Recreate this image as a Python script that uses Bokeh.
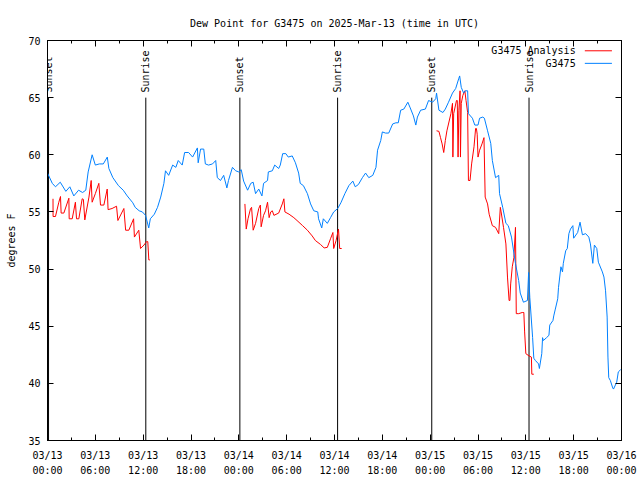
import math
from bokeh.plotting import figure
from bokeh.models import (Range1d, FixedTicker, LinearAxis, Label, Arrow,
                          CustomJSTickFormatter)
from bokeh.core.properties import value
from bokeh.embed import file_html
from bokeh.resources import INLINE

# ---------------- data (hours since 2025-03-13 00:00 UTC) ----------------
x_tick_hours = [0, 6, 12, 18, 24, 30, 36, 42, 48, 54, 60, 66, 72]
x_tick_labels = ["03/13\n00:00", "03/13\n06:00", "03/13\n12:00", "03/13\n18:00",
                 "03/14\n00:00", "03/14\n06:00", "03/14\n12:00", "03/14\n18:00",
                 "03/15\n00:00", "03/15\n06:00", "03/15\n12:00", "03/15\n18:00",
                 "03/16\n00:00"]
y_ticks = [35, 40, 45, 50, 55, 60, 65, 70]

event_hours = [0.13, 12.33, 24.13, 36.39, 48.2, 60.4]
event_names = ["Sunset", "Sunrise", "Sunset", "Sunrise", "Sunset", "Sunrise"]
event_top = 65

station_hours = [
    0.0, 0.6, 1.0, 1.6, 2.3, 2.8, 3.3, 3.9, 4.4, 4.8, 5.1, 5.6, 6.0, 6.5, 7.0,
    7.5, 7.7, 8.2, 8.9, 9.5, 10.0, 10.7, 11.0, 11.5, 11.9, 12.3, 12.7, 12.9,
    13.4, 13.8, 14.2, 14.6, 14.8, 15.2, 15.7, 16.1, 16.4, 16.9, 17.2, 17.7,
    18.2, 18.8, 18.9, 19.2, 19.6, 19.8, 20.2, 20.7, 21.1, 21.3, 21.7, 22.1,
    22.5, 22.7, 23.2, 23.6, 24.0, 24.3, 24.6, 25.1, 25.5, 25.8, 26.1, 26.5,
    26.9, 27.1, 27.6, 27.7, 28.2, 28.5, 29.0, 29.2, 29.5, 29.9, 30.2, 30.7,
    31.1, 31.5, 31.7, 32.1, 32.6, 33.0, 33.4, 33.9, 34.0, 34.4, 34.6, 35.1,
    35.5, 35.9, 36.4, 36.8, 37.3, 37.8, 38.3, 38.6, 39.0, 39.5, 39.9, 40.3,
    40.8, 41.2, 41.4, 41.8, 42.0, 42.4, 42.8, 43.3, 43.7, 44.0, 44.3, 44.7,
    45.2, 45.5, 45.9, 46.2, 46.4, 46.8, 47.4, 47.8, 48.3, 48.7, 48.8, 49.1,
    49.6, 49.9, 50.3, 50.8, 51.2, 51.6, 51.7, 51.9, 52.2, 52.4, 52.7, 52.8,
    53.3, 53.6, 54.0, 54.2, 54.6, 54.8, 55.2, 55.6, 55.8, 56.2, 56.6, 56.7,
    57.1, 57.5, 57.8, 58.2, 58.5, 58.7, 59.1, 59.3, 59.7, 60.2, 60.35, 60.5,
    60.85, 61.0, 61.2, 61.6, 61.7, 62.0, 62.1, 62.2, 62.6, 62.9, 63.0, 63.4,
    63.5, 63.7, 64.0, 64.1, 64.4, 64.6, 64.7, 65.0, 65.2, 65.4, 65.6, 65.9,
    66.0, 66.5, 66.8, 67.1, 67.5, 67.9, 68.1, 68.4, 68.6, 68.9, 69.1, 69.6,
    69.8, 70.0, 70.2, 70.3, 70.4, 70.6, 70.9, 71.0, 71.4, 71.6, 71.9]
station_dewpoint = [
    58.4, 57.5, 57.2, 57.6, 56.8, 57.2, 56.4, 56.9, 56.7, 56.9, 58.5, 60.0, 59.1, 59.2, 59.2,
    59.8, 58.8, 58.0, 57.3, 56.9, 56.4, 55.8, 55.4, 55.1, 55.0, 54.7, 53.6, 54.4,
    54.8, 55.4, 56.3, 57.5, 58.6, 58.2, 59.1, 58.9, 59.5, 59.1, 60.2, 60.2,
    59.8, 60.6, 59.3, 60.5, 60.5, 59.2, 59.1, 59.2, 59.5, 58.0, 57.75, 58.2,
    57.1, 57.75, 58.9, 58.6, 58.5, 58.7, 57.7, 56.9, 57.5, 57.6, 56.6, 57.0,
    56.4, 57.5, 57.75, 58.5, 58.6, 59.1, 58.8, 59.1, 60.1, 60.1, 59.8, 59.9,
    59.3, 58.4, 57.5, 57.3, 56.6, 55.7, 55.1, 55.0, 54.4, 53.6, 54.4, 54.0,
    54.5, 55.0, 55.3, 55.8, 56.6, 57.3, 57.7, 57.2, 57.4, 58.0, 58.4, 58.0,
    58.2, 58.9, 60.4, 61.25, 62.0, 61.9, 61.9, 62.7, 62.8, 62.8, 63.9, 64.0,
    64.6, 64.1, 63.4, 62.6, 63.3, 63.9, 64.0, 64.75, 64.6, 64.9, 65.4, 63.9,
    63.7, 64.0, 64.6, 65.4, 65.8, 66.7, 66.9, 65.9, 65.4, 65.6, 65.6, 63.6,
    63.2, 62.6, 62.6, 63.2, 63.3, 63.2, 62.1, 61.0, 59.5, 58.0, 58.2, 56.6,
    55.4, 54.0, 53.8, 52.8, 51.4, 50.5, 49.0, 47.9, 47.1, 47.25, 49.7, 47.5,
    44.0, 42.2, 42.0, 41.7, 41.3, 42.6, 44.0, 43.75, 44.0, 44.2, 45.1, 45.5,
    45.9, 46.5, 47.4, 48.4, 50.2, 49.75, 50.5, 51.6, 51.8, 53.1, 53.5, 53.8,
    52.7, 53.2, 54.1, 53.0, 53.1, 52.8, 52.2, 50.5, 52.1, 51.8, 50.6, 49.75,
    49.3, 48.1, 45.8, 42.3, 40.5, 40.25, 39.6, 39.5, 40.1, 41.0, 41.2]

nan = float("nan")
analysis_hours = [
    0.69, 0.70, 1.0, 1.42, 1.63, 1.71, 2.05, 2.68, 2.72, 3.1, 3.5, 3.64, 3.93,
    4.35, 4.5, 4.68, 5.2, 5.48, 5.6, 6.0, 6.44, 6.65, 7.07, 7.49, 7.6, 8.1,
    8.66, 8.83, 9.58, 9.8, 10.2, 10.8, 10.9, 11.45, 11.67, 12.1, 12.42, 12.58,
    12.71, 12.84, 13.0,
    24.76, 24.93, 25.15, 25.47, 25.6, 25.8, 26.1, 26.5, 26.7, 26.8, 27.1,
    27.35, 27.6, 27.8, 28.0, 28.2, 28.4, 29.0, 29.45, 29.65, 29.78, 30.3,
    30.9, 31.3, 32.0, 32.6, 33.2, 33.6, 34.25, 34.7, 35.1, 35.5, 35.8, 35.9,
    36.2, 36.5, 36.65, 36.9, 37.0,
    48.8, 49.1, 49.3, 49.5, 49.7, 49.9, 50.1, 50.6, 50.8, 50.85, 50.95, 51.3,
    51.4, 51.5, 51.6, 51.75, 51.8, 51.9, 52.1, 52.35, 52.5, 52.7, 52.8, 53.0,
    53.2, 53.5, 53.7, 53.8, 53.9, 54.0, 54.2, 54.5, 54.75, 54.9, 55.2, 55.4,
    55.8, 56.2, 56.6, 56.8, 56.9, 57.2, 57.5, 57.7, 57.9, 58.0, 58.1, 58.3,
    58.5, 58.7, 58.8, 59.1, 59.55, 59.75, 59.85, 60.0, 60.4, 60.7, 60.75, 61.0]
analysis_dewpoint = [
    56.15, 54.6, 54.6, 55.85, 56.35, 54.9, 54.9, 56.2, 54.4, 54.4, 55.85, 54.4, 54.4,
    56.15, 56.1, 54.3, 56.3, 57.75, 55.85, 56.6, 57.5, 55.6, 55.6, 57.0, 55.2, 55.3,
    55.5, 54.25, 55.3, 53.4, 53.4, 54.4, 52.8, 53.4, 51.8, 52.1, 52.4, 52.4,
    50.8, 50.8, nan,
    55.7, 53.5, 54.4, 55.3, 55.4, 53.4, 54.0, 55.3, 55.6, 53.7, 54.7,
    55.1, 55.85, 54.5, 55.0, 55.1, 54.7, 54.9, 55.7, 56.15, 55.0, 54.8,
    54.5, 54.25, 53.8, 53.4, 52.9, 52.5, 52.15, 51.85, 51.9, 52.65, 53.2, 51.8,
    52.5, 53.5, 51.8, 51.8, nan,
    62.1, 62.05, 61.5, 60.95, 60.2, 61.25, 62.1, 63.6, 64.5, 59.8, 63.6, 64.75,
    64.75, 59.8, 63.9, 65.6, 59.8, 64.5, 65.2, 65.6, 64.75, 63.7, 57.75, 57.75,
    59.2, 60.7, 62.3, 62.3, 61.8, 59.8, 60.4, 60.95, 61.5, 56.3, 55.7, 54.8,
    53.8, 53.65, 53.1, 55.4, 55.0, 53.65, 52.2, 49.3, 47.25, 47.25, 48.7, 50.2,
    51.0, 53.65, 46.1, 46.1, 46.2, 46.2, 44.5, 42.6, 42.4, 42.3, 40.8, 40.8]

series_names = ["G3475 Analysis", "G3475"]
series_colors = ["#ff0000", "#0080ff"]

# ---------------- figure ----------------
FONT = "DejaVu Sans Mono"
FS = "10px"

p = figure(width=640, height=480, output_backend="svg", toolbar_location=None,
           x_range=Range1d(0, 72), y_range=Range1d(35, 70),
           x_axis_type=None, y_axis_type=None,
           min_border_left=47, min_border_right=19,
           min_border_top=40, min_border_bottom=40,
           background_fill_color="white", border_fill_color="white")
p.outline_line_color = "black"
p.outline_line_alpha = 1.0
p.outline_line_width = 1

p.title.text = "Dew Point for G3475 on 2025-Mar-13 (time in UTC)"
p.title.align = "center"
p.title.text_font = FONT
p.title.text_font_size = FS
p.title.text_font_style = "normal"
p.title.text_color = "black"
p.title.standoff = 23

xticker = FixedTicker(ticks=x_tick_hours, minor_ticks=list(range(0, 73, 3)))
yticker = FixedTicker(ticks=y_ticks, minor_ticks=[])
blank = CustomJSTickFormatter(code="return ''")


def style(ax, labels=True):
    ax.axis_line_color = "black"
    ax.major_tick_in = 6
    ax.major_tick_out = 0
    ax.minor_tick_in = 3
    ax.minor_tick_out = 0
    ax.major_tick_line_color = "black"
    ax.minor_tick_line_color = "black"
    ax.major_label_text_font = FONT
    ax.major_label_text_font_size = FS
    ax.major_label_text_color = "black"
    if not labels:
        ax.formatter = blank
        ax.major_label_standoff = 0


xb = LinearAxis(ticker=xticker)
style(xb)
xb.major_label_overrides = {h: lab for h, lab in zip(x_tick_hours, x_tick_labels)}
xb.major_label_standoff = 9
xb.major_label_text_line_height = 1.4
p.add_layout(xb, "below")

xa = LinearAxis(ticker=xticker)
style(xa, labels=False)
p.add_layout(xa, "above")

yl = LinearAxis(ticker=yticker, axis_label="degrees F")
style(yl)
yl.major_label_standoff = 7
yl.axis_label_text_font = FONT
yl.axis_label_text_font_size = FS
yl.axis_label_text_font_style = "normal"
yl.axis_label_text_color = "black"
yl.axis_label_standoff = 8
p.add_layout(yl, "left")

yr = LinearAxis(ticker=yticker)
style(yr, labels=False)
p.add_layout(yr, "right")

# sunrise / sunset markers
p.segment(x0=event_hours, y0=[35] * len(event_hours), x1=event_hours,
          y1=[event_top] * len(event_hours), line_color="black", line_width=1)
p.text(x=event_hours, y=[event_top + 0.45] * len(event_hours), text=event_names,
       angle=math.pi / 2, text_align="left", text_baseline="middle",
       text_font=value(FONT), text_font_size=FS, text_color="black")

# series
p.line(analysis_hours, analysis_dewpoint, line_color=series_colors[0], line_width=1)
p.line(station_hours, station_dewpoint, line_color=series_colors[1], line_width=1)

# gnuplot-style key (text then sample line)
key_y = [69.1, 68.0]
for name, col, ky in zip(series_names, series_colors, key_y):
    p.add_layout(Label(x=66.25, y=ky, text=name, text_align="right",
                       text_baseline="middle", text_font=FONT,
                       text_font_size=FS, text_color="black"))
    p.add_layout(Arrow(start=None, end=None, x_start=67.4, x_end=70.8,
                       y_start=ky, y_end=ky, line_color=col, line_width=1))

open("out.html", "w").write(file_html(p, INLINE))
